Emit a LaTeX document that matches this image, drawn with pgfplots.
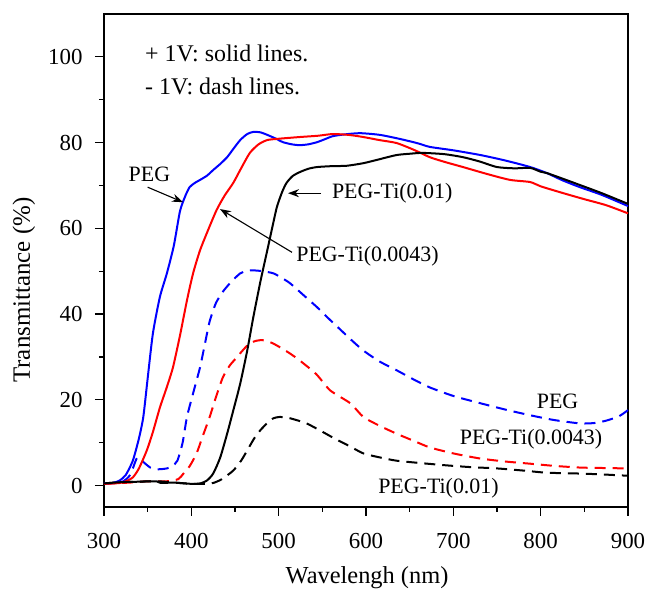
\documentclass[border=0pt]{standalone}
\usepackage{fontspec}
\setmainfont{Liberation Serif}
\usepackage{pgfplots}
\pgfplotsset{compat=1.18}
\usetikzlibrary{arrows.meta}

\begin{document}
\begin{tikzpicture}
\path[use as bounding box] (-104bp,-85bp) rectangle (542bp,507bp);
\begin{axis}[
    width=524bp, height=493bp, scale only axis,
    xmin=300, xmax=900, ymin=-5, ymax=110,
    xtick={300,400,...,900}, ytick={0,20,...,100},
    minor x tick num=1, minor y tick num=1,
    tick align=outside, xtick pos=bottom, ytick pos=left,
    major tick length=9bp, minor tick length=5bp,
    every tick/.style={black, line width=1.2bp},
    axis line style={line width=1.3bp},
    /pgf/number format/assume math mode=true,
    ticklabel style={font=\fontsize{23}{27}\selectfont},
    xticklabel style={yshift=-14bp},
    yticklabel style={xshift=-9bp},
    xlabel={Wavelengh (nm)}, ylabel={Transmittance (\%)},
    xlabel style={font=\fontsize{24.5}{28}\selectfont, at={(axis description cs:0.502,-0.144)}, anchor=center},
    ylabel style={font=\fontsize{25}{29}\selectfont, at={(axis description cs:-0.153,0.44)}, anchor=center},
    every axis plot/.append style={smooth, tension=0.4, line width=2bp},
    clip=false,
]
% -1V dashed
\addplot[blue, dash pattern=on 11bp off 7bp] coordinates {
(300,0.5) (320,0.8) (330,2.5) (338,6.5) (345,5.5) (353,4.2) (362,3.8) (372,4) (378,4.5) (384,5.8) (390,10) (395,16) (402,21.5) (410,27.6) (416,33.5) (421,38.3) (428,42.5) (436,45.2) (446,47.6) (456,49.5) (464,50.1) (471,50.2) (482,50) (494,49.5) (503,48.5) (513,47.2) (528,44.5) (544,41.6) (557,39) (570,36.5) (583,34) (597,31.5) (615,29) (635,26.9) (655,24.7) (673,22.9) (700,20.9) (731,19.2) (760,17.7) (788,16.4) (815,15.3) (845,14.5) (862,14.6) (876,15.2) (890,16.2) (900,17.6)
};
\addplot[red, dash pattern=on 11bp off 7bp] coordinates {
(300,0.4) (330,0.7) (350,1.0) (372,1.0) (385,1.5) (391,2.8) (398,4.5) (406,7.5) (413,11.5) (421,16) (428,20.5) (436,25.2) (444,28) (452,29.9) (460,31.8) (467,33.2) (475,33.8) (482,33.9) (492,33.3) (502,32.2) (513,30.8) (524,29.2) (543,26) (559,22.2) (582,19.2) (597,16) (615,14) (635,12.1) (655,10.4) (673,8.9) (700,7.5) (731,6.3) (760,5.6) (788,5.1) (815,4.6) (845,4.2) (870,4.1) (899,4.0)
};
\addplot[black, dash pattern=on 11bp off 7bp] coordinates {
(300,0.5) (320,0.8) (360,1.0) (380,0.7) (400,0.4) (415,0.4) (425,0.6) (435,1.5) (448,3.5) (457,5.8) (464,8.2) (472,11) (479,12.9) (487,14.6) (494,15.7) (501,16) (509,15.9) (520,15.3) (532,14.5) (547,12.9) (562,11.2) (582,9.1) (597,7.5) (615,6.6) (635,5.8) (665,5.2) (693,4.7) (720,4.3) (750,4.0) (780,3.5) (807,3.0) (845,2.8) (870,2.6) (899,2.3)
};
% +1V solid
\addplot[blue] coordinates {
(300,0.5) (310,0.6) (318,1.2) (325,2.5) (333,5.8) (340,11) (345,16) (350,25) (356,35.5) (364,44) (372,49.5) (380,56) (387,64) (393,67.5) (398,69.6) (404,70.6) (410,71.3) (418,72.3) (425,73.6) (433,75) (441,76.6) (448,78.5) (456,80.6) (464,82) (471,82.5) (479,82.4) (487,81.8) (496,81) (505,80.1) (515,79.6) (524,79.4) (534,79.6) (544,80.1) (553,80.8) (562,81.5) (575,81.9) (593,82.2) (616,81.8) (640,80.8) (660,79.8) (673,79.0) (700,78.2) (731,77.1) (760,75.8) (788,74.3) (807,72.9) (825,71.2) (845,69.6) (870,67.8) (900,65.2)
};
\addplot[red] coordinates {
(300,0.4) (310,0.5) (318,0.6) (325,1.0) (333,1.9) (340,4) (349,8.2) (356,12.5) (364,18.2) (372,23) (379,27.6) (387,35) (395,43.2) (402,49.5) (410,54.9) (420,60) (429,64.3) (438,67.6) (448,70.6) (457,74) (467,77.6) (477,79.6) (487,80.6) (500,80.9) (524,81.3) (545,81.6) (562,82) (580,81.8) (597,81.3) (615,80.6) (635,79.9) (655,78.3) (673,76.6) (690,75.5) (711,74.3) (740,72.6) (765,71.3) (788,70.8) (800,69.8) (826,68.2) (850,66.8) (875,65.4) (900,63.5)
};
\addplot[black] coordinates {
(300,0.5) (320,0.8) (340,0.9) (360,1.0) (365,0.6) (380,0.7) (400,0.4) (410,0.5) (418,1.2) (425,2.8) (433,6.5) (441,12.1) (448,17.5) (456,23.8) (464,31.5) (471,39.3) (479,47.5) (487,54.9) (493,60.5) (498,65) (504,68.5) (509,70.6) (516,72.2) (524,73.1) (534,73.9) (544,74.3) (560,74.5) (578,74.6) (597,75.2) (615,76.1) (635,77.1) (650,77.4) (665,77.6) (690,77.3) (711,76.6) (730,75.6) (750,74.3) (770,74.0) (788,74.1) (800,73.2) (807,72.9) (825,71.6) (845,70.1) (870,68.2) (900,65.7)
};
% annotations
\begin{scope}[every node/.style={font=\fontsize{22}{26}\selectfont, inner sep=0pt}]
\node[anchor=west, font=\fontsize{24}{28}\selectfont] at (axis cs:347,100.9) {+ 1V: solid lines.};
\node[anchor=west, font=\fontsize{24}{28}\selectfont] at (axis cs:347,93.2) {- 1V: dash lines.};
\node at (axis cs:352,72.5) {PEG};
\node at (axis cs:630,68.2) {PEG-Ti(0.01)};
\node at (axis cs:601.7,53.5) {PEG-Ti(0.0043)};
\node at (axis cs:819.3,19.7) {PEG};
\node at (axis cs:789,10.7) {PEG-Ti(0.0043)};
\node at (axis cs:683,-0.7) {PEG-Ti(0.01)};
\end{scope}
\draw[line width=1.1bp, -{Stealth[length=11bp,width=8bp]}] (axis cs:350,69.6) -- (axis cs:390.5,66.1);
\draw[line width=1.1bp, -{Stealth[length=11bp,width=8bp]}] (axis cs:548.5,68.2) -- (axis cs:510.7,68.2);
\draw[line width=1.1bp, -{Stealth[length=11bp,width=8bp]}] (axis cs:515.3,54.4) -- (axis cs:432.8,64.5);
\end{axis}
\end{tikzpicture}
\end{document}
